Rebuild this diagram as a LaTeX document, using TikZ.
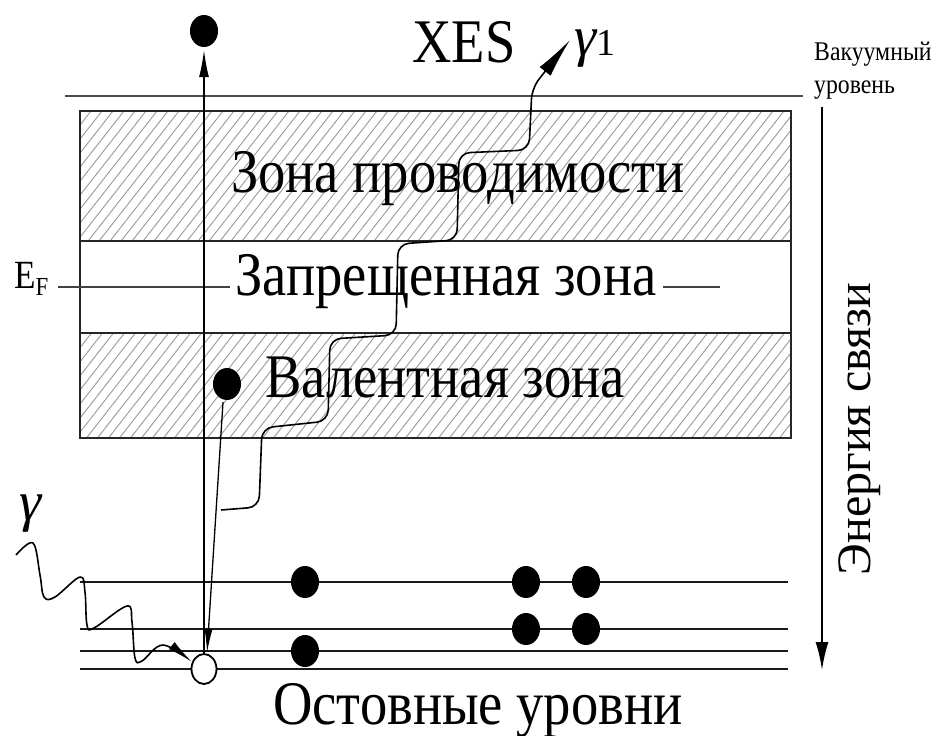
\documentclass[tikz,border=0pt]{standalone}
\usepackage{fontspec}
\setmainfont{Liberation Serif}
\usetikzlibrary{arrows.meta,shapes.geometric,calc}

\begin{document}
\begin{tikzpicture}[x=1pt,y=-1pt,
  narrow/.style={xscale=0.88, transform shape},
  big/.style={font=\fontsize{62}{62}\selectfont, inner sep=0pt, narrow},
  small/.style={font=\fontsize{27}{30}\selectfont, inner sep=0pt, narrow},
  bandline/.style={line width=2pt, black!85},
  hatchline/.style={line width=0.9pt, black!40},
  level/.style={line width=2.3pt, black!90},
  fermi/.style={line width=1.6pt, black!75},
  thinarrow/.style={line width=1.3pt},
  wave/.style={line width=1.6pt, line join=round},
  electron/.style={ellipse, fill=black, minimum width=28pt, minimum height=32pt, inner sep=0pt},
  hole/.style={ellipse, draw=black, line width=1.8pt, fill=white, minimum width=25pt, minimum height=30pt, inner sep=0pt}]
\useasboundingbox (0,0) rectangle (937,736);

% hatching of the conduction and valence bands
\begin{scope}
  \clip (80,111) rectangle (791,241);
  \foreach \i in {-150,-139,...,800} \draw[hatchline] (\i,250) -- ++(120,-153);
\end{scope}
\begin{scope}
  \clip (80,333) rectangle (791,438);
  \foreach \i in {-150,-139,...,800} \draw[hatchline] (\i,445) -- ++(100,-128);
\end{scope}

% band boxes
\draw[bandline] (80,111) rectangle (791,438);
\draw[bandline] (80,241) -- (791,241);
\draw[bandline] (80,333) -- (791,333);

% vacuum level
\draw[line width=2pt, black!70] (65,96) -- (803,96);

% core levels
\foreach \yy in {582,629,651,669} \draw[level] (80,\yy) -- (788,\yy);

% labels
\node[big, anchor=base] (xes) at (464,62) {XES};
\node[big, anchor=base] (cond) at (458,192) {Зона проводимости};
\node[big, anchor=base] (gap) at (446,295) {Запрещенная зона};
\node[big, anchor=base] (val) at (445,397) {Валентная зона};
\node[big, anchor=base] (core) at (478,724) {Остовные уровни};
\node[small, anchor=base west] (vac1) at (814,60) {Вакуумный};
\node[small, anchor=base west] (vac2) at (814,93) {уровень};
\node[font=\fontsize{48}{48}\selectfont, inner sep=0pt, rotate=90, anchor=base] (energy) at (870,429) {Энергия связи};
\node[font=\fontsize{40}{40}\selectfont, inner sep=0pt, narrow, anchor=base west] (ef) at (14,288)
  {E\raisebox{-7pt}{\fontsize{26}{26}\selectfont F}};
\node[font=\fontsize{56}{56}\selectfont\itshape, inner sep=0pt, anchor=base west] (gam) at (19,520) {γ};
\node[font=\fontsize{56}{56}\selectfont\itshape, inner sep=0pt, anchor=base west] (gam1) at (574,55)
  {γ\upshape\fontsize{38}{38}\selectfont 1};

% Fermi level
\coordinate (efA) at (58,287);
\coordinate (efB) at (230,287);
\coordinate (efC) at (663,287);
\coordinate (efD) at (720,287);
\draw[fermi] (efA) -- (efB);
\draw[fermi] (efC) -- (efD);

% electrons and hole
\node[electron] (etop) at (204,31) {};
\node[electron] (eval) at (227,384) {};
\node[electron] (c1a) at (305,582) {};
\node[electron] (c1b) at (526,582) {};
\node[electron] (c1c) at (586,582) {};
\node[electron] (c2b) at (526,629) {};
\node[electron] (c2c) at (586,629) {};
\node[electron] (c3a) at (305,651) {};
\node[hole] (hole) at (204,669) {};

% photoelectron leaving the core hole
\draw[thinarrow, -{Latex[length=27pt,width=10pt]}] (hole.north) -- ($(etop.south)+(0,3)$);
% valence electron filling the core hole
\draw[thinarrow, -{Latex[length=24pt,width=8pt]}] ($(eval.south)+(-4,2)$) -- ($(hole.north)+(3,0)$);

% emitted x-ray photon
\coordinate (g1s) at (221,510);
\coordinate (g1e) at (570,40);
\draw[wave, rounded corners=11pt, -{Latex[length=40pt,width=14pt]}]
  (g1s) -- (259,507) -- (262,428) -- (328,421) -- (330,339) -- (396,335)
  -- (398,244) -- (457,240) -- (459,153) -- (529,150) -- (532,88) -- (g1e);

% incoming photon
\draw[wave, -{Latex[length=26pt,width=9pt]}] plot[smooth, tension=0.6] coordinates {
  (16,555) (33,543) (40,575) (44,597) (55,597) (80,577) (85,592) (87,625)
  (94,628) (127,606) (132,622) (135,658) (142,661) (163,645) (192,662)};

% binding energy axis
\coordinate (axT) at (822,107);
\coordinate (axB) at (822,670);
\draw[line width=2pt, -{Latex[length=28pt,width=13pt]}] (axT) -- (axB);
\end{tikzpicture}
\end{document}
